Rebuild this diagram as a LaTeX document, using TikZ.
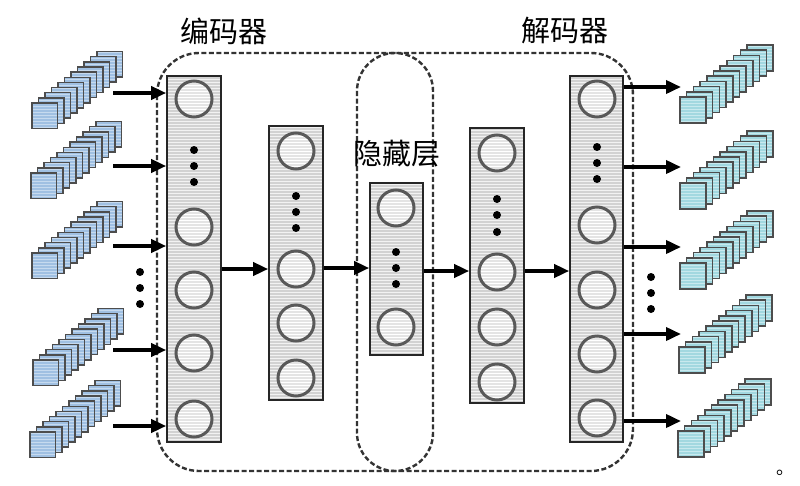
\documentclass[tikz,border=0pt]{standalone}
\usepackage{fontspec}
\newfontfamily\cjk{Noto Sans CJK SC}
\usetikzlibrary{patterns,arrows.meta}
\definecolor{colfill}{HTML}{D2D2D2}
\definecolor{colstripe}{HTML}{F2F2F2}
\definecolor{circfill}{HTML}{E4E4E4}
\definecolor{circline}{HTML}{595959}
\definecolor{lblue}{HTML}{A0C0E2}
\definecolor{lbluestripe}{HTML}{C6DAEF}
\definecolor{lcyan}{HTML}{A2D8E0}
\definecolor{lcyanstripe}{HTML}{C8E9EE}
\definecolor{sqborder}{HTML}{4D4D4D}
\definecolor{dashcol}{HTML}{333333}
\newcommand\stackL[2]{\foreach \i in {10,9,...,0}{\draw[sqL] (#1+\i*6.5,#2-\i*5.15) rectangle ++(25.5,25.5);}}
\newcommand\stackR[2]{\foreach \i in {10,9,...,0}{\draw[sqR] (#1+\i*6.7,#2-\i*5.2) rectangle ++(26,26);}}
\begin{document}
\begin{tikzpicture}[x=1pt,y=-1pt,
  sqL/.style={draw=sqborder,line width=1.5pt,preaction={fill=lblue},pattern=horizontal lines,pattern color=lbluestripe},
  sqR/.style={draw=sqborder,line width=1.5pt,preaction={fill=lcyan},pattern=horizontal lines,pattern color=lcyanstripe},
  colbox/.style={draw=black!85,line width=1.6pt,rectangle,inner sep=0pt,preaction={fill=colfill},pattern=horizontal lines,pattern color=colstripe},
  neuron/.style={circle,draw=circline,line width=3pt,minimum size=36pt,inner sep=0pt,preaction={fill=circfill},pattern=horizontal lines,pattern color=white},
  dotn/.style={circle,fill=black,minimum size=8pt,inner sep=0pt},
  arr/.style={line width=3.6pt,-{Triangle[length=15pt,width=13pt]}},
  dashbox/.style={draw=dashcol,line width=2.4pt,dash pattern=on 5pt off 2.5pt},
  lab/.style={font=\cjk\fontsize{29pt}{32pt}\selectfont,inner sep=0pt}
]
\useasboundingbox (0,0) rectangle (800,485);
% dashed groups
\draw[dashbox,rounded corners=42pt] (157,53) rectangle (633,471);
\draw[dashbox,rounded corners=38pt] (357,53) rectangle (433,471);
% labels
\node[lab] (enc) at (224,31) {编码器};
\node[lab] (dec) at (565,31) {解码器};
\node[lab] (hid) at (397,154) {隐藏层};
\node[font=\cjk\fontsize{18pt}{20pt}\selectfont,inner sep=0pt,anchor=base west] (stop) at (776,474) {。};
% input stacks
\stackL{32}{103}
\stackL{31}{173}
\stackL{32}{253}
\stackL{33}{360}
\stackL{30}{432}
% output stacks
\stackR{680}{97}
\stackR{680}{183}
\stackR{680}{263}
\stackR{679}{347}
\stackR{678}{431}
% side dots
\node[dotn] (ld1) at (140,272) {};
\node[dotn] (ld2) at (140,288) {};
\node[dotn] (ld3) at (140,304) {};
\node[dotn] (rd1) at (651,277) {};
\node[dotn] (rd2) at (651,293) {};
\node[dotn] (rd3) at (651,309) {};
% columns
\node[colbox,minimum width=54pt,minimum height=366pt] (col1) at (194,259) {};
\node[colbox,minimum width=54pt,minimum height=274pt] (col2) at (296,263) {};
\node[colbox,minimum width=53pt,minimum height=172pt] (col3) at (396.5,269) {};
\node[colbox,minimum width=54pt,minimum height=275pt] (col4) at (497,265.5) {};
\node[colbox,minimum width=53pt,minimum height=366pt] (col5) at (596.5,259) {};
% neurons col1
\foreach \y [count=\k] in {99,227,290,353,419}{\node[neuron] (a\k) at (194,\y) {};}
\foreach \y [count=\k] in {150,166,182}{\node[dotn] (ad\k) at (194,\y) {};}
% col2
\foreach \y [count=\k] in {151,269,323,378}{\node[neuron] (b\k) at (296,\y) {};}
\foreach \y [count=\k] in {196,212,228}{\node[dotn] (bd\k) at (296,\y) {};}
% col3
\foreach \y [count=\k] in {208,327}{\node[neuron] (c\k) at (396,\y) {};}
\foreach \y [count=\k] in {252,268,284}{\node[dotn] (cd\k) at (396,\y) {};}
% col4
\foreach \y [count=\k] in {153,272,327,382}{\node[neuron] (d\k) at (497,\y) {};}
\foreach \y [count=\k] in {199,215,232}{\node[dotn] (dd\k) at (497,\y) {};}
% col5
\foreach \y [count=\k] in {99,225,290,354,418}{\node[neuron] (e\k) at (597,\y) {};}
\foreach \y [count=\k] in {147,163,179}{\node[dotn] (ed\k) at (597,\y) {};}
% input arrows
\foreach \y [count=\k] in {93,166,246,350,426}{
  \coordinate (in\k) at (113,\y);
  \draw[arr] (in\k) -- (col1.west |- in\k);}
% output arrows
\foreach \y [count=\k] in {87,167,247,334,421}{
  \coordinate (out\k) at (681,\y);
  \draw[arr] (col5.east |- out\k) -- (out\k);}
% between columns
\coordinate (r12) at (0,269);
\coordinate (r23) at (0,268);
\coordinate (r34) at (0,271);
\coordinate (r45) at (0,271);
\draw[arr] (col1.east |- r12) -- (col2.west |- r12);
\draw[arr] (col2.east |- r23) -- (col3.west |- r23);
\draw[arr] (col3.east |- r34) -- (col4.west |- r34);
\draw[arr] (col4.east |- r45) -- (col5.west |- r45);
\end{tikzpicture}
\end{document}
